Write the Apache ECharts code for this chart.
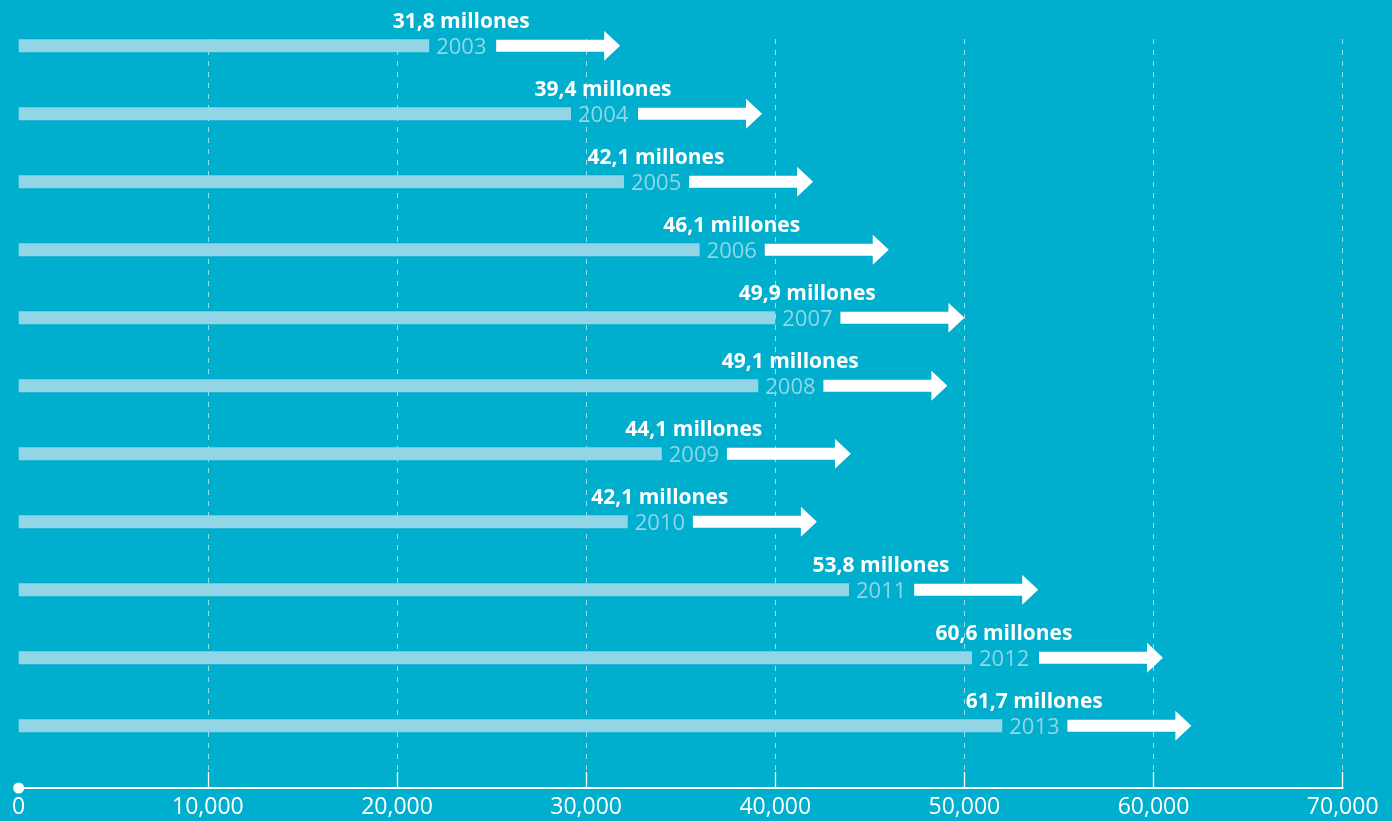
<!DOCTYPE html>
<html>
<head>
<meta charset="utf-8">
<script src="https://cdn.jsdelivr.net/npm/echarts@6/dist/echarts.min.js"></script>
<style>
html,body{margin:0;padding:0;background:#00aecd;}
#c{width:1392px;height:821px;}
</style>
</head>
<body>
<div id="c"></div>
<script>
// ---- data ----
const years = ['2003','2004','2005','2006','2007','2008','2009','2010','2011','2012','2013'];
const millones = [31.8, 39.4, 42.1, 46.1, 49.9, 49.1, 44.1, 42.1, 53.8, 60.6, 61.7];
const barEnds = [21700, 29200, 32000, 36000, 40000, 39100, 34000, 32200, 43900, 50400, 52000];
const arrowTips = [31800, 39300, 42000, 46000, 50000, 49100, 44000, 42200, 53900, 60500, 62000];
const xTickLabels = ['0','10,000','20,000','30,000','40,000','50,000','60,000','70,000'];

const BG = '#00aecd';
const BAR = '#91d5e6';

function fmtMillones(v){ return v.toFixed(1).replace('.', ',') + ' millones'; }

const chart = echarts.init(document.getElementById('c'));

function renderItem(params, api){
  const i = api.value(2);
  const p0 = api.coord([0, i]);
  const y = p0[1];
  const x0 = p0[0];
  const xb = api.coord([api.value(0), i])[0];
  const xt = api.coord([api.value(1), i])[0];
  const xs = xt - 124, xh = xt - 16;
  return {
    type: 'group',
    children: [
      { type:'rect', shape:{x:x0, y:y-6.5, width:xb-x0, height:13}, style:{fill:BAR} },
      { type:'polygon', shape:{points:[[xs,y-6],[xh,y-6],[xh,y-15],[xt,y],[xh,y+15],[xh,y+6],[xs,y+6]]}, style:{fill:'#ffffff'} },
      { type:'text', x:xb+7, y:y+1.5, style:{text:years[i], fill:BAR, fontSize:22, fontWeight:500, fontFamily:'Open Sans', align:'left', verticalAlign:'middle'} },
      { type:'text', x:xb+32, y:y-23.5, style:{text:fmtMillones(millones[i]), fill:'#ffffff', fontSize:21, fontWeight:'bold', fontFamily:'Open Sans', align:'center', verticalAlign:'middle'} }
    ]
  };
}

const option = {
  backgroundColor: BG,
  animation: false,
  grid: [
    { left: 18.7, right: 49.3, top: 11.8, bottom: 61.2 },
    { left: 18.7, right: 49.3, top: 39, bottom: 49 },
    { left: 18.7, right: 49.3, top: 772, bottom: 33 }
  ],
  xAxis: [
    { type:'value', gridIndex:0, min:0, max:70000, show:false },
    { type:'value', gridIndex:1, min:0, max:70000, interval:10000,
      axisLine:{show:false}, axisTick:{show:false}, axisLabel:{show:false},
      splitLine:{show:true, showMinLine:false, lineStyle:{color:'rgba(255,255,255,0.6)', width:1, type:[5,6]}} },
    { type:'value', gridIndex:2, min:0, max:70000, interval:10000,
      axisLine:{show:true, lineStyle:{color:'#ffffff', width:2}, symbol:['circle','none'], symbolSize:[11,11]},
      axisTick:{show:false},
      splitLine:{show:true, showMinLine:false, lineStyle:{color:'#ffffff', width:1.3}},
      axisLabel:{color:'#ffffff', fontSize:23, fontFamily:'Open Sans', margin:8,
        formatter: v => xTickLabels[Math.round(v/10000)]} }
  ],
  yAxis: [
    { type:'category', gridIndex:0, data:years, inverse:true, show:false },
    { type:'value', gridIndex:1, show:false },
    { type:'value', gridIndex:2, show:false }
  ],
  series: [{
    type:'custom',
    xAxisIndex:0, yAxisIndex:0,
    renderItem: renderItem,
    encode:{x:[0,1], y:2},
    data: years.map((y,i) => [barEnds[i], arrowTips[i], i]),
    z: 5
  }]
};
chart.setOption(option);
</script>
</body>
</html>
